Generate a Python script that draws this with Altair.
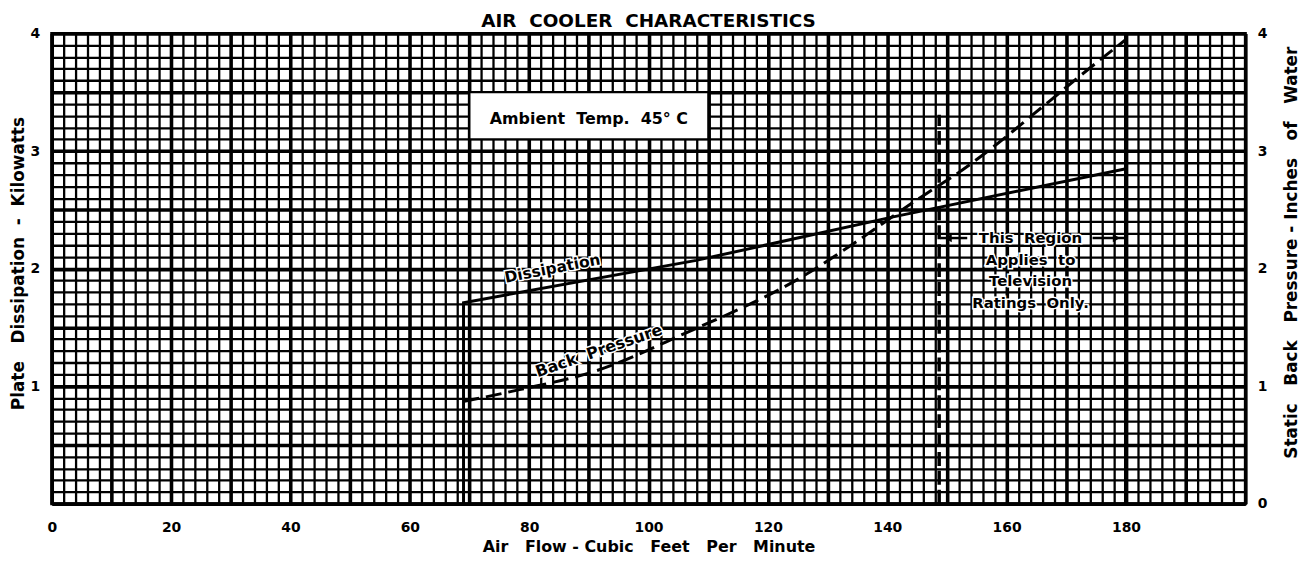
import altair as alt
import pandas as pd

# ---------------- data ----------------
NB = "\u00a0"
chart_title = f"AIR{NB}{NB}COOLER{NB}{NB}CHARACTERISTICS"
x_title = f"Air{NB*3}Flow{NB}-{NB}Cubic{NB*3}Feet{NB*3}Per{NB*3}Minute"
y_left_title = f"Plate{NB*3}Dissipation{NB*2}-{NB*2}Kilowatts"
y_right_title = f"Static{NB*3}Back{NB*3}Pressure{NB}-{NB}Inches{NB*3}of{NB*3}Water"

x_ticks = list(range(0, 201, 2))
y_ticks = [round(i * 0.1, 1) for i in range(41)]
y_right_ticks = [0, 1, 2, 3, 4]

# Dissipation (kW) vs air flow (cfm)  -- solid
diss_cfm = [69, 69, 108, 141, 180]
diss_kw = [0.0, 1.71, 2.07, 2.44, 2.85]

# Static back pressure (inches of water) vs air flow -- dashed
press_cfm = [69, 78.4, 91.2, 105.7, 126.7, 132.8, 146.6, 150.6, 160.6, 164.4, 167.3, 171.1, 180]
press_in = [0.87, 0.97, 1.13, 1.44, 1.96, 2.16, 2.64, 2.77, 3.15, 3.31, 3.43, 3.59, 3.95]

# region limit lines
tv_limit_cfm = [148.7]
tv_limit_top = [3.31]
max_cfm = [180]
max_top = [4.0]

# annotation box
box_x = [70]
box_x2 = [110]
box_y = [3.1]
box_y2 = [3.5]
box_label = [f"Ambient{NB}{NB}Temp.{NB}{NB}45°{NB}C"]

region_lines = [f"This{NB}{NB}Region", f"Applies{NB}{NB}to", "Television", f"Ratings{NB}{NB}Only."]
region_y = [2.26, 2.07, 1.89, 1.71]
region_x = [164, 164, 164, 164]
arrow_x = [148.9, 174.4]
arrow_x2 = [153.4, 179.7]
arrow_y = [2.26, 2.26]
head_x = [150.2, 178.4]
head_shape = ["triangle-left", "triangle-right"]

# ---------------- chart ----------------
FONT = "DejaVu Sans"
W, H = 1201, 473

xs = alt.Scale(domain=[0, 200], nice=False, zero=False)
ys = alt.Scale(domain=[0, 4], nice=False, zero=False)

x_axis = alt.Axis(
    values=x_ticks, tickCount=1000, grid=True, gridColor="black", gridOpacity=1,
    gridWidth={"condition": {"test": "datum.value % 10 === 0", "value": 3.6}, "value": 2.3},
    labelExpr="(datum.value % 20 === 0 && datum.value < 200) ? toString(datum.value) : ''",
    labelOverlap=False, labelFlush=False, ticks=False, domain=False,
    labelFont=FONT, labelFontSize=14, labelFontWeight="bold", labelColor="black",
    labelPadding=17, title=x_title, titleFont=FONT, titleFontSize=16,
    titleFontWeight="bold", titleColor="black", titlePadding=4,
)
y_left_axis = alt.Axis(
    values=y_ticks, tickCount=1000, grid=True, gridColor="black", gridOpacity=1,
    gridWidth={"condition": {"test": "abs(datum.value * 2 - round(datum.value * 2)) < 0.001", "value": 3.6}, "value": 2.3},
    labelExpr="(datum.value > 0.5 && abs(datum.value - round(datum.value)) < 0.001) ? toString(round(datum.value)) : ''",
    labelOverlap=False, labelFlush=False, ticks=False, domain=False,
    labelFont=FONT, labelFontSize=14, labelFontWeight="bold", labelColor="black",
    labelPadding=12, title=y_left_title, titleFont=FONT, titleFontSize=17,
    titleFontWeight="bold", titleColor="black",
    titleAngle=270, titleX=-33, titleY=231, titleAlign="center", titleBaseline="middle",
)
y_right_axis = alt.Axis(
    orient="right", values=y_right_ticks, tickCount=1000, grid=False,
    labelExpr="toString(round(datum.value))",
    labelOverlap=False, labelFlush=False, ticks=False, domain=False,
    labelFont=FONT, labelFontSize=14, labelFontWeight="bold", labelColor="black",
    labelPadding=12, title=y_right_title, titleFont=FONT, titleFontSize=17,
    titleFontWeight="bold", titleColor="black",
    titleAngle=270, titleX=46, titleY=220, titleAlign="center", titleBaseline="middle",
)

diss_df = pd.DataFrame({"cfm": diss_cfm, "kw": diss_kw, "ord": list(range(len(diss_cfm)))})
press_df = pd.DataFrame({"cfm": press_cfm, "p": press_in})

diss = alt.Chart(diss_df).mark_line(color="black", strokeWidth=3).encode(
    x=alt.X("cfm:Q", scale=xs, axis=x_axis),
    y=alt.Y("kw:Q", scale=ys, axis=y_left_axis),
    order="ord:Q",
)

box = alt.Chart(pd.DataFrame({"x": box_x, "x2": box_x2, "y": box_y, "y2": box_y2})).mark_rect(
    fill="white", stroke="black", strokeWidth=2
).encode(x=alt.X("x:Q", scale=xs), x2="x2:Q", y=alt.Y("y:Q", scale=ys), y2="y2:Q")

box_text = alt.Chart(pd.DataFrame({"x": [90], "y": [3.27], "t": box_label})).mark_text(
    font=FONT, fontSize=16, fontWeight="bold", color="black"
).encode(x=alt.X("x:Q", scale=xs), y=alt.Y("y:Q", scale=ys), text="t:N")

tv_rule = alt.Chart(pd.DataFrame({"x": tv_limit_cfm, "y0": [0], "y1": tv_limit_top})).mark_rule(
    color="black", strokeWidth=3.5, strokeDash=[14, 5]
).encode(x=alt.X("x:Q", scale=xs), y=alt.Y("y0:Q", scale=ys), y2="y1:Q")

max_rule = alt.Chart(pd.DataFrame({"x": max_cfm, "y0": [0], "y1": max_top})).mark_rule(
    color="black", strokeWidth=4
).encode(x=alt.X("x:Q", scale=xs), y=alt.Y("y0:Q", scale=ys), y2="y1:Q")


def haloed_text(df, size, angle=0):
    enc = dict(x=alt.X("x:Q", scale=xs), y=alt.Y("y:Q", scale=ys), text="t:N")
    halo = alt.Chart(df).mark_text(
        font=FONT, fontSize=size, fontWeight="bold", color="white",
        stroke="white", strokeWidth=3, angle=angle
    ).encode(**enc)
    txt = alt.Chart(df).mark_text(
        font=FONT, fontSize=size, fontWeight="bold", color="black", angle=angle
    ).encode(**enc)
    return [halo, txt]


diss_label = haloed_text(pd.DataFrame({"x": [83.9], "y": [2.0], "t": ["Dissipation"]}), 15.5, 349)
press_label = haloed_text(pd.DataFrame({"x": [91.7], "y": [1.30], "t": [f"Back{NB}{NB}Pressure"]}), 16, 341)
region_text = haloed_text(pd.DataFrame({"x": region_x, "y": region_y, "t": region_lines}), 15)

arrows = alt.Chart(pd.DataFrame({"x": arrow_x, "x2": arrow_x2, "y": arrow_y})).mark_rule(
    color="black", strokeWidth=2.5
).encode(x=alt.X("x:Q", scale=xs), x2="x2:Q", y=alt.Y("y:Q", scale=ys))

heads = alt.Chart(pd.DataFrame({"x": head_x, "y": arrow_y, "s": head_shape})).mark_point(
    filled=True, color="black", size=70, opacity=1
).encode(
    x=alt.X("x:Q", scale=xs), y=alt.Y("y:Q", scale=ys),
    shape=alt.Shape("s:N", scale=alt.Scale(domain=head_shape, range=head_shape), legend=None),
)

left = alt.layer(diss, box, box_text, tv_rule, max_rule, *diss_label, *press_label,
                 *region_text, arrows, heads)

press = alt.Chart(press_df).mark_line(
    color="black", strokeWidth=3, strokeDash=[16, 7], interpolate="monotone"
).encode(
    x=alt.X("cfm:Q", scale=xs),
    y=alt.Y("p:Q", scale=ys, axis=y_right_axis),
)

chart = alt.layer(left, press).resolve_scale(y="independent").properties(
    width=W, height=H,
    title=alt.Title(chart_title, font=FONT, fontSize=18.5, fontWeight="bold",
                    color="black", anchor="middle", offset=-4),
    autosize=alt.AutoSizeParams(type="none"),
    padding={"left": 44, "top": 24, "right": 56, "bottom": 56},
    background="white",
).configure_view(stroke="black", strokeWidth=3)

chart.save("out.html", embed_options={"renderer": "svg", "actions": False})
